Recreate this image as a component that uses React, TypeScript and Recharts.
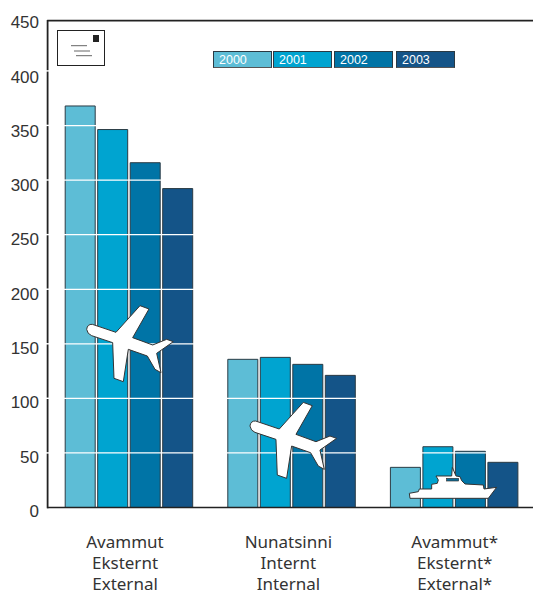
import React from 'react';
import { BarChart, Bar, XAxis, YAxis, ReferenceLine, Legend } from 'recharts';

const categories = ['Avammut|Eksternt|External', 'Nunatsinni|Internt|Internal', 'Avammut*|Eksternt*|External*'];
const values2000 = [368, 135.8, 36.8];
const values2001 = [346.4, 137.6, 55.7];
const values2002 = [316, 131.2, 51.5];
const values2003 = [292.3, 121.1, 41.4];
const years = ['2000', '2001', '2002', '2003'];
const colors = ['#5dbdd6', '#00a4d0', '#0074a6', '#145488'];
const yTicks = [0, 50, 100, 150, 200, 250, 300, 350, 400, 450];
const gridValues = [50, 100, 150, 200, 250, 300, 350, 400];
const frameTop = 446.3;

const data = categories.map((c, i) => ({
  name: c,
  y2000: values2000[i],
  y2001: values2001[i],
  y2002: values2002[i],
  y2003: values2003[i],
}));
const seriesKeys = ['y2000', 'y2001', 'y2002', 'y2003'];

const PLANE =
  'M80,118 Q82,102 97,103 L168,127 L240,47 L267,57 L218,143 L278,165 L320,148 L340,155 L290,190 L303,248 L285,238 L262,198 L205,178 L190,275 L162,265 L158,158 L95,137 Q82,132 80,118 Z';
const SHIP =
  'M88,190 L115,185 L118,177 L155,177 L155,163 L172,160 L175,150 L168,138 L215,138 L217,112 L228,138 L240,140 L245,152 L255,162 L310,165 L312,177 L350,172 L325,205 L90,205 Z';

function Plane({ dx, dy }: { dx: number; dy: number }) {
  return (
    <g transform={`translate(${60 + dx},${290 + dy}) scale(0.3333)`}>
      <path d={PLANE} fill="#fff" stroke="#333" strokeWidth={3} strokeLinejoin="round" />
    </g>
  );
}

function Ship() {
  return (
    <g transform="translate(380,430) scale(0.3333)">
      <path d={SHIP} fill="#fff" stroke="#333" strokeWidth={3} strokeLinejoin="round" />
      <rect x={200} y={145} width={36} height={8} fill="#0a6c98" stroke="#333" strokeWidth={2} />
    </g>
  );
}

function Envelope() {
  return (
    <g>
      <rect x={57.5} y={30.5} width={47} height={35} fill="#fff" stroke="#222" strokeWidth={1} />
      <rect x={93} y={35} width={6} height={7} fill="#222" />
      <line x1={71} x2={87} y1={45.7} y2={45.7} stroke="#666" strokeWidth={1} />
      <line x1={74} x2={90} y1={51} y2={51} stroke="#666" strokeWidth={1} />
      <line x1={76} x2={92} y1={55.7} y2={55.7} stroke="#666" strokeWidth={1} />
    </g>
  );
}

function YTick({ y, payload }: any) {
  return (
    <text
      x={39}
      y={y + 4 + payload.value * 0.005}
      textAnchor="end"
      dominantBaseline="central"
      fontFamily="'Liberation Sans', Arial, sans-serif"
      fontSize={17}
      fill="#333"
    >
      {payload.value}
    </text>
  );
}

const labelShift = [-3.5, -2.7, 1];

function XTick({ x, payload, index }: any) {
  const lines = String(payload.value).split('|');
  return (
    <text textAnchor="middle" fontFamily="'Noto Sans', sans-serif" fontSize={17} fill="#333">
      {lines.map((l, i) => (
        <tspan key={i} x={x + labelShift[index]} y={547.5 + i * 21.3}>
          {l}
        </tspan>
      ))}
    </text>
  );
}

function YearLegend() {
  const lefts = [213, 273, 334, 396];
  return (
    <div style={{ position: 'relative', width: 260, height: 18 }}>
      {years.map((y, i) => (
        <div
          key={y}
          style={{
            position: 'absolute',
            left: lefts[i] - 213,
            top: 0,
            width: 57,
            height: 15,
            background: colors[i],
            border: '1px solid #2a3a44',
            borderBottomColor: '#555',
            boxSizing: 'content-box',
            color: '#fff',
            fontFamily: "'Liberation Sans', Arial, sans-serif",
            fontSize: 12.5,
            lineHeight: '16px',
            textIndent: 5,
          }}
        >
          {y}
        </div>
      ))}
    </div>
  );
}

// Left frame line, broken where each white gridline crosses it.
const axisBreaks = [20, 70.9, 125.4, 180, 234.6, 289.2, 343.8, 398.3, 452.9, 508.3];

export default function App() {
  return (
    <div style={{ position: 'absolute', left: 0, top: 0, width: 533, height: 592, overflow: 'hidden', background: '#fff' }}>
      <BarChart
        width={540}
        height={592}
        data={data}
        margin={{ top: 16.5, right: 5, bottom: 0, left: 0 }}
        barSize={30}
        barGap={2.5}
      >
        <XAxis
          dataKey="name"
          interval={0}
          tickLine={false}
          axisLine={{ stroke: '#222', strokeWidth: 1.7 }}
          tick={<XTick />}
          height={84.5}
        />
        <YAxis
          domain={[0, 450]}
          ticks={yTicks}
          width={47.2}
          tickLine={false}
          axisLine={false}
          tick={<YTick />}
        />
        <ReferenceLine y={frameTop} stroke="#222" strokeWidth={1.8} />
        {seriesKeys.map((k, i) => (
          <Bar key={k} dataKey={k} name={years[i]} fill={colors[i]} stroke="#2b3b44" strokeWidth={1} isAnimationActive={false} />
        ))}
        {gridValues.map((v) => (
          <ReferenceLine key={v} y={v} stroke="#fff" strokeWidth={1.2} />
        ))}
        <Legend
          verticalAlign="middle"
          content={<YearLegend />}
          wrapperStyle={{ position: 'absolute', left: 213, top: 51, width: 260, height: 18 }}
        />
      </BarChart>
      <svg width={533} height={592} style={{ position: 'absolute', left: 0, top: 0, pointerEvents: 'none' }}>
        {axisBreaks.slice(0, -1).map((b, i) => (
          <line key={b} x1={47.6} x2={47.6} y1={i === 0 ? b : b + 0.7} y2={axisBreaks[i + 1] - (i === axisBreaks.length - 2 ? 0 : 0.7)} stroke="#222" strokeWidth={1.8} />
        ))}
        <Envelope />
        <Plane dx={0} dy={0} />
        <Plane dx={163.3} dy={96.7} />
        <Ship />
      </svg>
    </div>
  );
}
